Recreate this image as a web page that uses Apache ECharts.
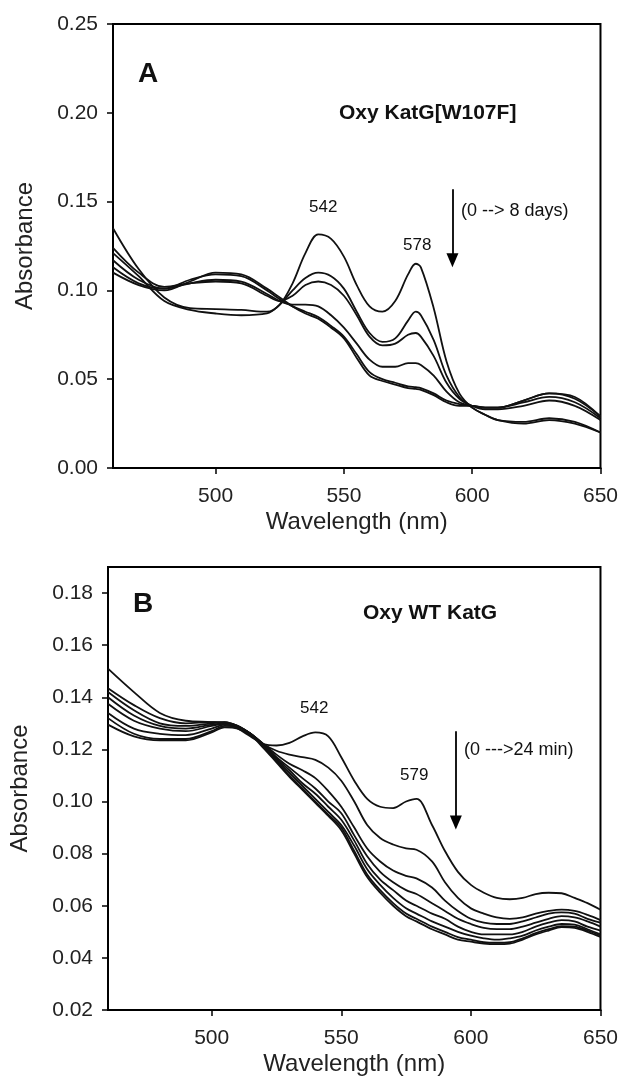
<!DOCTYPE html>
<html>
<head>
<meta charset="utf-8">
<script src="https://cdn.jsdelivr.net/npm/echarts@6/dist/echarts.min.js"></script>
<style>
html,body{margin:0;padding:0;background:#fff;}
#c{width:621px;height:1077px;}
</style>
</head>
<body>
<div id="c"></div>
<script>
// ---------- Panel A data ----------
const wlA = [460,470,480,490,500,510,520,525,530,535,540,545,550,555,560,565,570,575,578,580,585,590,595,600,605,610,620,630,640,650];
const A1 = [0.135,0.112,0.096,0.090,0.0895,0.089,0.088,0.092,0.104,0.121,0.1315,0.129,0.119,0.103,0.091,0.088,0.094,0.109,0.115,0.113,0.090,0.060,0.042,0.034,0.030,0.027,0.026,0.028,0.026,0.020];
const A2 = [0.121,0.108,0.094,0.089,0.087,0.086,0.087,0.092,0.100,0.107,0.110,0.108,0.101,0.088,0.076,0.071,0.073,0.083,0.088,0.086,0.072,0.052,0.040,0.034,0.030,0.027,0.025,0.027,0.025,0.020];
const A3 = [0.124,0.110,0.102,0.104,0.105,0.104,0.097,0.094,0.097,0.103,0.105,0.103,0.097,0.086,0.074,0.069,0.070,0.075,0.076,0.074,0.063,0.048,0.039,0.035,0.033,0.033,0.035,0.038,0.035,0.027];
const A4 = [0.117,0.106,0.101,0.104,0.106,0.105,0.098,0.094,0.092,0.092,0.091,0.086,0.079,0.070,0.061,0.057,0.057,0.059,0.059,0.058,0.052,0.043,0.037,0.035,0.034,0.034,0.037,0.040,0.037,0.028];
const A5 = [0.113,0.104,0.101,0.106,0.109,0.108,0.100,0.095,0.091,0.088,0.085,0.080,0.074,0.064,0.054,0.050,0.048,0.046,0.0455,0.045,0.042,0.038,0.036,0.035,0.034,0.034,0.038,0.042,0.039,0.029];
const A6 = [0.110,0.103,0.100,0.105,0.110,0.109,0.101,0.096,0.091,0.087,0.084,0.079,0.073,0.062,0.052,0.049,0.047,0.045,0.0445,0.044,0.041,0.037,0.035,0.035,0.034,0.034,0.038,0.042,0.040,0.029];

// ---------- Panel B data ----------
const wlB = [460,470,480,490,500,505,510,515,520,525,530,535,540,545,550,555,560,565,570,575,579,585,590,595,600,605,610,615,620,625,630,635,640,645,650];
const B1 = [0.151,0.142,0.134,0.131,0.1305,0.130,0.128,0.125,0.122,0.1215,0.1225,0.125,0.1265,0.125,0.117,0.108,0.101,0.098,0.0975,0.100,0.101,0.091,0.081,0.073,0.068,0.065,0.063,0.0625,0.063,0.0645,0.065,0.0648,0.063,0.061,0.0585];
const B2 = [0.1435,0.137,0.132,0.130,0.1305,0.1305,0.129,0.126,0.122,0.1195,0.118,0.117,0.116,0.113,0.108,0.100,0.091,0.086,0.0835,0.082,0.0815,0.077,0.069,0.063,0.059,0.057,0.0555,0.055,0.0555,0.057,0.058,0.0585,0.058,0.0565,0.0545];
const B3 = [0.142,0.135,0.130,0.129,0.130,0.1305,0.129,0.126,0.122,0.118,0.1145,0.112,0.109,0.104,0.098,0.090,0.082,0.077,0.0735,0.0715,0.0705,0.067,0.062,0.058,0.055,0.0535,0.053,0.053,0.054,0.0555,0.057,0.0575,0.057,0.055,0.0535];
const B4 = [0.140,0.133,0.129,0.128,0.1295,0.130,0.129,0.126,0.122,0.117,0.113,0.109,0.105,0.100,0.0955,0.087,0.079,0.073,0.069,0.066,0.0645,0.061,0.058,0.055,0.053,0.0515,0.051,0.051,0.052,0.0535,0.055,0.056,0.0555,0.054,0.052];
const B5 = [0.1375,0.131,0.128,0.127,0.129,0.1298,0.1288,0.126,0.1215,0.1165,0.112,0.107,0.103,0.098,0.093,0.085,0.076,0.070,0.066,0.062,0.060,0.057,0.055,0.052,0.050,0.049,0.049,0.049,0.050,0.052,0.0535,0.0545,0.054,0.052,0.0505];
const B6 = [0.134,0.128,0.126,0.1255,0.128,0.1295,0.1288,0.126,0.121,0.116,0.111,0.106,0.101,0.096,0.091,0.083,0.074,0.068,0.063,0.059,0.057,0.054,0.052,0.050,0.0485,0.0475,0.047,0.0475,0.0485,0.0505,0.052,0.053,0.0528,0.051,0.049];
const B7 = [0.132,0.126,0.124,0.124,0.127,0.129,0.1285,0.126,0.121,0.1155,0.110,0.105,0.100,0.095,0.090,0.081,0.072,0.066,0.061,0.057,0.055,0.052,0.050,0.048,0.047,0.046,0.0458,0.046,0.0475,0.0495,0.051,0.0522,0.052,0.0505,0.0485];
const B8 = [0.1295,0.125,0.1235,0.1235,0.1265,0.1285,0.128,0.1255,0.1205,0.115,0.1095,0.1045,0.0995,0.0945,0.089,0.080,0.071,0.065,0.060,0.056,0.054,0.051,0.049,0.047,0.0462,0.0455,0.0453,0.0455,0.047,0.049,0.0505,0.0518,0.0515,0.050,0.048];

// ---------- Ticks ----------
const xTicks = [500,550,600,650];
const yTicksA = [0,0.05,0.10,0.15,0.20,0.25];
const yTicksB = [0.02,0.04,0.06,0.08,0.10,0.12,0.14,0.16,0.18];

// ---------- Annotation anchors (data coords) ----------
const arrowA = [[592.3,0.157],[592.3,0.117]];
const arrowB = [[594.2,0.127],[594.2,0.092]];

const FONT = 'Liberation Sans, Arial, Helvetica, sans-serif';
const zip = (xs, ys) => xs.map((x,i)=>[x, ys[i]]);

function xAxis(gridIndex){
  return {
    type:'value', gridIndex, min:460, max:650,
    name:'Wavelength (nm)', nameLocation:'middle', nameGap:42,
    nameTextStyle:{fontFamily:FONT, fontSize:24, color:'#222'},
    axisLine:{show:true, lineStyle:{color:'#000', width:2}},
    axisTick:{show:true, length:6, customValues:xTicks, lineStyle:{color:'#000', width:1.5}},
    axisLabel:{customValues:xTicks, fontFamily:FONT, fontSize:21, color:'#222', margin:18},
    splitLine:{show:false}
  };
}
function yAxis(gridIndex, min, max, ticks, gap){
  return {
    type:'value', gridIndex, min, max,
    name:'Absorbance', nameLocation:'middle', nameGap:gap,
    nameTextStyle:{fontFamily:FONT, fontSize:24, color:'#222'},
    axisLine:{show:true, lineStyle:{color:'#000', width:2}},
    axisTick:{show:true, length:6, customValues:ticks, lineStyle:{color:'#000', width:1.5}},
    axisLabel:{customValues:ticks, fontFamily:FONT, fontSize:21, color:'#222', margin:15,
      formatter:v=>Number(v).toFixed(2)},
    splitLine:{show:false}
  };
}
function lineSeries(xi, yi, xs, ys){
  return {
    type:'line', xAxisIndex:xi, yAxisIndex:yi, data:zip(xs, ys),
    smooth:0.35, showSymbol:false, symbol:'none', silent:true,
    lineStyle:{color:'#111', width:1.8}, animation:false
  };
}
function arrowSeries(xi, yi, pts){
  return {
    type:'line', xAxisIndex:xi, yAxisIndex:yi, data:[], silent:true, animation:false,
    markLine:{
      silent:true, animation:false,
      symbol:['none','triangle'], symbolSize:[12,14],
      label:{show:false},
      lineStyle:{color:'#000', width:1.8, type:'solid'},
      data:[[{coord:pts[0]},{coord:pts[1]}]]
    }
  };
}

const seriesA = [A1,A2,A3,A4,A5,A6].map(s=>lineSeries(0,0,wlA,s));
const seriesB = [B1,B2,B3,B4,B5,B6,B7,B8].map(s=>lineSeries(1,1,wlB,s));

const txt = (left, top, text, size, bold) => ({
  type:'text', left, top, silent:true,
  style:{text, fontFamily:FONT, fontSize:size, fontWeight:bold?'bold':'normal', fill:'#111'}
});

const chart = echarts.init(document.getElementById('c'), null, {renderer:'canvas'});
chart.setOption({
  animation:false,
  backgroundColor:'#fff',
  grid:[
    {left:113, top:24, width:491, height:444, show:true, borderColor:'#000', borderWidth:2, backgroundColor:'transparent'},
    {left:106, top:567, width:497, height:443, show:true, borderColor:'#000', borderWidth:2, backgroundColor:'transparent'}
  ],
  xAxis:[xAxis(0), xAxis(1)],
  yAxis:[yAxis(0,0,0.25,yTicksA,76), yAxis(1,0.02,0.19,yTicksB,76)],
  series:[...seriesA, ...seriesB, arrowSeries(0,0,arrowA), arrowSeries(1,1,arrowB)],
  graphic:[
    txt(138,60,'A',28,true),
    txt(339,103,'Oxy KatG[W107F]',21,true),
    txt(309,199,'542',17,false),
    txt(403,237,'578',17,false),
    txt(461,202,'(0 --> 8 days)',18,false),
    txt(133,590,'B',28,true),
    txt(363,603,'Oxy WT KatG',21,true),
    txt(300,700,'542',17,false),
    txt(400,767,'579',17,false),
    txt(464,741,'(0 --->24 min)',18,false)
  ]
});
</script>
</body>
</html>
